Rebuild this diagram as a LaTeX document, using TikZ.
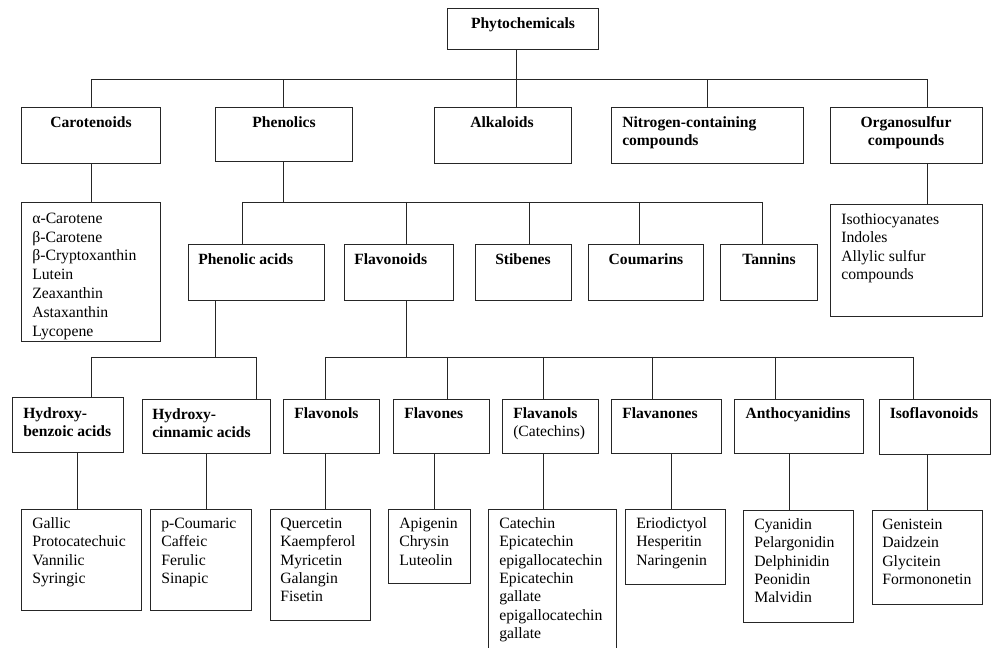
\documentclass[tikz,border=0pt]{standalone}
\usepackage{fontspec}
\setmainfont{Liberation Serif}
\usetikzlibrary{fit}
\newcommand\rl{\rule{0pt}{9.2pt}}
\begin{document}
\begin{tikzpicture}[x=0.75pt,y=-0.75pt,
  bx/.style={draw=black!85, line width=0.7pt, inner sep=0pt, fit={#1}},
  ln/.style={draw=black!85, line width=0.7pt},
  tl/.style={inner sep=0pt, font=\fontsize{11.7}{13.6}\selectfont\bfseries, align=left, yshift=9.2pt, anchor=north west},
  tc/.style={tl, anchor=north, align=center},
  ls/.style={inner sep=0pt, font=\fontsize{11.8}{13.8}\selectfont, align=left, yshift=9.2pt, anchor=north west}]
\useasboundingbox (0,0) rectangle (993,648);
% boxes
\node[bx={(447,8) (598,49)}] (phy) {};
\node[bx={(21,107) (160,163)}] (car) {};
\node[bx={(215,107) (352,161)}] (phe) {};
\node[bx={(434,107) (571,163)}] (alk) {};
\node[bx={(611,107) (803,163)}] (nit) {};
\node[bx={(830,107) (982,163)}] (org) {};
\node[bx={(21,202) (160,341)}] (carL) {};
\node[bx={(830,204) (982,316)}] (orgL) {};
\node[bx={(188,244) (324,300)}] (pha) {};
\node[bx={(344,244) (453,300)}] (fla) {};
\node[bx={(475,244) (571,300)}] (sti) {};
\node[bx={(588,244) (703,300)}] (cou) {};
\node[bx={(720,244) (817,300)}] (tan) {};
\node[bx={(12,397) (123,452)}] (hb) {};
\node[bx={(142,399) (270,453)}] (hc) {};
\node[bx={(283,399) (379,453)}] (fol) {};
\node[bx={(393,399) (489,453)}] (fon) {};
\node[bx={(502,399) (598,453)}] (fan) {};
\node[bx={(611,399) (721,453)}] (fnn) {};
\node[bx={(734,399) (863,453)}] (ant) {};
\node[bx={(879,399) (990,454)}] (iso) {};
\node[bx={(21,509) (141,610)}] (hbL) {};
\node[bx={(150,509) (251,610)}] (hcL) {};
\node[bx={(270,509) (370,620)}] (folL) {};
\node[bx={(388,509) (470,583)}] (fonL) {};
\node[bx={(488,509) (616,662)}] (fanL) {};
\node[bx={(625,509) (725,584)}] (fnnL) {};
\node[bx={(743,510) (853,622)}] (antL) {};
\node[bx={(872,510) (982,604)}] (isoL) {};
% bus coordinates
\coordinate (bA1) at (91,79);  \coordinate (bA2) at (927,79);
\coordinate (vA) at (516,79);
\coordinate (bB1) at (242,202); \coordinate (bB2) at (762,202);
\coordinate (vB) at (283,202);
\coordinate (vB2) at (406,202); \coordinate (vB3) at (529,202); \coordinate (vB4) at (639,202);
\coordinate (bC1) at (91,357); \coordinate (bC2) at (256,357);
\coordinate (vC) at (215,357);
\coordinate (bD1) at (325,357); \coordinate (bD2) at (913,357);
\coordinate (vD) at (406,357);
\coordinate (vD2) at (447,357); \coordinate (vD3) at (543,357); \coordinate (vD4) at (652,357); \coordinate (vD5) at (775,357);
\coordinate (vE1) at (77,480); \coordinate (vE2) at (206,480); \coordinate (vE3) at (434,480);
\coordinate (vE4) at (671,480); \coordinate (vE5) at (789,480); \coordinate (vE6) at (927,480);
% level 1
\draw[ln] (bA1) -- (bA2);
\draw[ln] (phy.south -| vA) -- (alk.north -| vA);
\draw[ln] (car.north -| bA1) -- (bA1);
\draw[ln] (phe.north) -- (phe.north |- bA1);
\draw[ln] (nit.north) -- (nit.north |- bA1);
\draw[ln] (org.north -| bA2) -- (bA2);
\draw[ln] (car.south -| bA1) -- (carL.north -| bA1);
\draw[ln] (org.south -| bA2) -- (orgL.north -| bA2);
% phenolics
\draw[ln] (phe.south -| vB) -- (vB);
\draw[ln] (bB1) -- (bB2);
\draw[ln] (bB1) -- (pha.north -| bB1);
\draw[ln] (vB2) -- (fla.north -| vB2);
\draw[ln] (vB3) -- (sti.north -| vB3);
\draw[ln] (vB4) -- (cou.north -| vB4);
\draw[ln] (bB2) -- (tan.north -| bB2);
% phenolic acids
\draw[ln] (pha.south -| vC) -- (vC);
\draw[ln] (bC1) -- (bC2);
\draw[ln] (bC1) -- (hb.north -| bC1);
\draw[ln] (bC2) -- (hc.north -| bC2);
\draw[ln] (hb.south -| vE1) -- (hbL.north -| vE1);
\draw[ln] (hc.south -| vE2) -- (hcL.north -| vE2);
% flavonoids
\draw[ln] (fla.south -| vD) -- (vD);
\draw[ln] (bD1) -- (bD2);
\draw[ln] (bD1) -- (fol.north -| bD1);
\draw[ln] (vD2) -- (fon.north -| vD2);
\draw[ln] (vD3) -- (fan.north -| vD3);
\draw[ln] (vD4) -- (fnn.north -| vD4);
\draw[ln] (vD5) -- (ant.north -| vD5);
\draw[ln] (bD2) -- (iso.north -| bD2);
\draw[ln] (fol.south -| bD1) -- (folL.north -| bD1);
\draw[ln] (fon.south -| vE3) -- (fonL.north -| vE3);
\draw[ln] (fan.south -| vD3) -- (fanL.north -| vD3);
\draw[ln] (fnn.south -| vE4) -- (fnnL.north -| vE4);
\draw[ln] (ant.south -| vE5) -- (antL.north -| vE5);
\draw[ln] (iso.south -| vE6) -- (isoL.north -| vE6);
% titles
\node[tc] (tPhy) at (523,28) {\rl Phytochemicals};
\node[tc] (tCar) at (91,127) {\rl Carotenoids};
\node[tc] (tPhe) at (284,127) {\rl Phenolics};
\node[tc] (tAlk) at (502,127) {\rl Alkaloids};
\node[tl] (tNit) at (622,127) {\rl Nitrogen-containing\\compounds};
\node[tc] (tOrg) at (906,127) {\rl Organosulfur\\compounds};
\node[tl] (tPha) at (198,264) {\rl Phenolic acids};
\node[tl] (tFla) at (354,264) {\rl Flavonoids};
\node[tc] (tSti) at (523,264) {\rl Stibenes};
\node[tc] (tCou) at (646,264) {\rl Coumarins};
\node[tc] (tTan) at (769,264) {\rl Tannins};
\node[tl] (tHb) at (23,418) {\rl Hydroxy-\\benzoic acids};
\node[tl] (tHc) at (152,419) {\rl Hydroxy-\\cinnamic acids};
\node[tl] (tFol) at (294,418) {\rl Flavonols};
\node[tl] (tFon) at (404,418) {\rl Flavones};
\node[tl] (tFan) at (513,418) {\rl Flavanols\\{\mdseries (Catechins)}};
\node[tl] (tFnn) at (622,418) {\rl Flavanones};
\node[tc] (tAnt) at (798,418) {\rl Anthocyanidins};
\node[tc] (tIso) at (934,418) {\rl Isoflavonoids};
% lists
\node[ls, font=\fontsize{11.8}{14.1}\selectfont] (lCar) at (32,223) {\rl α-Carotene\\β-Carotene\\β-Cryptoxanthin\\Lutein\\Zeaxanthin\\Astaxanthin\\Lycopene};
\node[ls] (lOrg) at (841,224) {\rl Isothiocyanates\\Indoles\\Allylic sulfur\\compounds};
\node[ls] (lHb) at (32,528) {\rl Gallic\\Protocatechuic\\Vannilic\\Syringic};
\node[ls] (lHc) at (161,528) {\rl p-Coumaric\\Caffeic\\Ferulic\\Sinapic};
\node[ls] (lFol) at (280,528) {\rl Quercetin\\Kaempferol\\Myricetin\\Galangin\\Fisetin};
\node[ls] (lFon) at (399,528) {\rl Apigenin\\Chrysin\\Luteolin};
\node[ls] (lFan) at (499,528) {\rl Catechin\\Epicatechin\\epigallocatechin\\Epicatechin\\gallate\\epigallocatechin\\gallate};
\node[ls] (lFnn) at (636,528) {\rl Eriodictyol\\Hesperitin\\Naringenin};
\node[ls] (lAnt) at (754,529) {\rl Cyanidin\\Pelargonidin\\Delphinidin\\Peonidin\\Malvidin};
\node[ls] (lIso) at (882,529) {\rl Genistein\\Daidzein\\Glycitein\\Formononetin};
\end{tikzpicture}
\end{document}
